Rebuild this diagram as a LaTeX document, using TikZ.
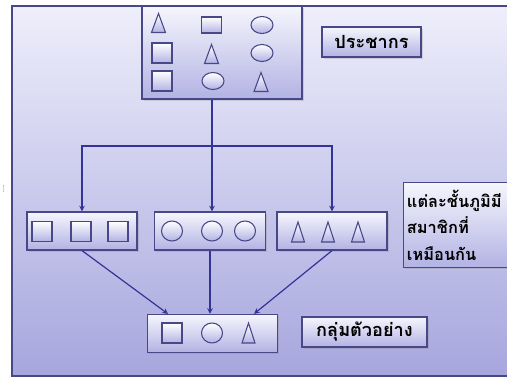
\documentclass[tikz,border=0pt]{standalone}
\usepackage{fontspec}
\newfontfamily\thaifont[Script=Thai]{Loma}
\usetikzlibrary{calc,shadows}
\definecolor{bgtop}{RGB}{238,238,251}
\definecolor{bgbot}{RGB}{166,166,222}
\definecolor{boxtop}{RGB}{246,246,253}
\definecolor{boxbot}{RGB}{178,178,228}
\definecolor{edgecol}{RGB}{72,72,136}
\definecolor{linkcol}{RGB}{52,52,150}

\begin{document}
\begin{tikzpicture}[x=0.75pt,y=-0.75pt,>=stealth,
  box node/.style={draw=edgecol,line width=0.9pt,top color=boxtop,bottom color=boxbot,inner sep=0pt,
    drop shadow={shadow xshift=1.2pt,shadow yshift=-1.2pt,opacity=0.25}},
  label node/.style={box node,font=\thaifont\bfseries\fontsize{13.6}{20}\selectfont,text=black},
  shape fill/.style={draw=edgecol,line width=0.8pt,top color=white,bottom color=boxbot},
  link/.style={draw=linkcol,line width=0.9pt,->}]
  \useasboundingbox (0,0) rectangle (507,378);
  \clip (0,0) rectangle (507,378);

  % background frame
  \draw[draw=edgecol,line width=1pt,top color=bgtop,bottom color=bgbot] (12,6) rectangle (530,376);
  \node[font=\tiny,text=gray] (mark) at (4,189) {]};

  % population
  \node[box node,minimum width=160*0.75pt,minimum height=93*0.75pt] (pop) at (222,52.5) {};
  \node[label node,minimum width=99*0.75pt,minimum height=30*0.75pt] (poplbl) at (371.5,42) {ประชากร};

  % strata
  \node[box node,minimum width=110*0.75pt,minimum height=38*0.75pt] (g1) at (82,231) {};
  \node[box node,minimum width=111*0.75pt,minimum height=38*0.75pt] (g2) at (210,231) {};
  \node[box node,minimum width=110*0.75pt,minimum height=38*0.75pt] (g3) at (332,231) {};
  \node[label node,anchor=north west,minimum width=140*0.75pt,minimum height=85*0.75pt,
    text width=100pt,inner xsep=2.5pt,align=left,font=\thaifont\bfseries\fontsize{12.3}{20}\selectfont]
    (stratlbl) at (403,182) {แต่ละชั้นภูมิมี\\สมาชิกที่\\เหมือนกัน};

  % sample
  \node[box node,minimum width=130*0.75pt,minimum height=38*0.75pt] (smp) at (212.5,333.5) {};
  \node[label node,minimum width=125*0.75pt,minimum height=30*0.75pt] (smplbl) at (364.5,332) {กลุ่มตัวอย่าง};

  % squares
  \foreach \x/\y in {162/53,162/81,42/231.5,81/231.5,118/231.5,172/333}
    \draw[shape fill] (\x-10,\y-10) rectangle (\x+10,\y+10);
  \draw[shape fill] (201.5,17) rectangle (221.5,33);
  % circles
  \foreach \x/\y in {262/25,262/53,213/81}
    \draw[shape fill] (\x,\y) ellipse [x radius=11,y radius=8.5];
  \foreach \x/\y in {172/231,212/231,245/231,212/333}
    \draw[shape fill] (\x,\y) ellipse [x radius=10.5,y radius=10];
  % triangles
  \foreach \x/\y in {158.5/23,211.5/54,261/82}
    \draw[shape fill] (\x-7,\y+9.5) -- (\x,\y-9.5) -- (\x+7,\y+9.5) -- cycle;
  \foreach \x/\y in {298/232,328/232,358/232,248.5/333}
    \draw[shape fill] (\x-6.5,\y+10) -- (\x,\y-10) -- (\x+6.5,\y+10) -- cycle;

  % connectors
  \coordinate (split) at (212,146);
  \draw[link,-] (pop.south -| split) -- (split);
  \draw[link] (split) -| (g1.north);
  \draw[link] (split) -- (split |- g2.north);
  \draw[link] (split) -| (g3.north);
  \draw[link] (g1.south) -- ($(smp.north)+(-44.5,0)$);
  \draw[link] (g2.south) -- (g2.south |- smp.north);
  \draw[link] (g3.south) -- ($(smp.north)+(41.5,0)$);
\end{tikzpicture}
\end{document}
